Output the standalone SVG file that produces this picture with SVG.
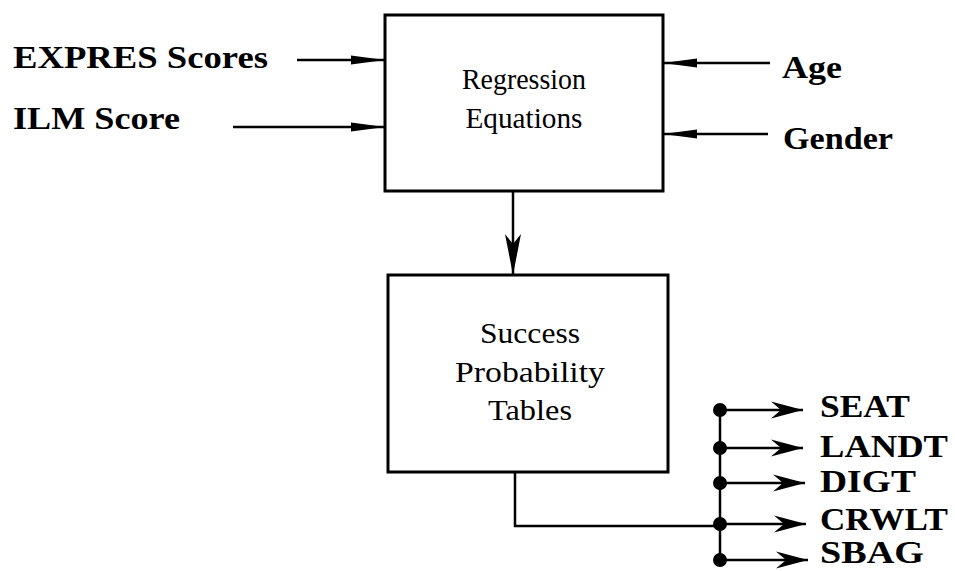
<svg xmlns="http://www.w3.org/2000/svg" width="955" height="571" viewBox="0 0 955 571">
<style>
.box{fill:#fff;stroke:#000;stroke-width:3}
.ln{fill:none;stroke:#000;stroke-width:2.5}
.lbl{font-family:"Liberation Serif","DejaVu Serif",serif;font-weight:bold;font-size:31px;fill:#000}
.txt{font-family:"Liberation Serif","DejaVu Serif",serif;font-size:29px;fill:#000;text-anchor:middle}
</style>
<defs>
<marker id="ah" markerUnits="userSpaceOnUse" markerWidth="36" markerHeight="14" refX="34" refY="7" orient="auto">
<path d="M0,2.5 L34,7 L0,11.5 Z" fill="#000"/>
</marker>
<marker id="ab" markerUnits="userSpaceOnUse" markerWidth="34" markerHeight="20" refX="32" refY="10" orient="auto">
<path d="M0,1.5 L32,10 L0,18.5 L10,10 Z" fill="#000"/>
</marker>
</defs>
<g id="connectors">
<line class="ln" x1="297" y1="60" x2="385" y2="60" marker-end="url(#ah)"/>
<line class="ln" x1="233" y1="127" x2="385" y2="127" marker-end="url(#ah)"/>
<line class="ln" x1="770" y1="63" x2="663" y2="63" marker-end="url(#ah)"/>
<line class="ln" x1="768" y1="134" x2="663" y2="134" marker-end="url(#ah)"/>
<path class="ln" d="M513,191 V275"/>
<path d="M505,234 L513,275 L521,234 L513,244 Z" fill="#000"/>
<path class="ln" d="M515,472 V526 H720"/>
<path class="ln" d="M720,410 V560"/>
<g fill="#000">
<circle cx="720" cy="410" r="7"/>
<circle cx="720" cy="448" r="7"/>
<circle cx="720" cy="483" r="7"/>
<circle cx="720" cy="524" r="7"/>
<circle cx="720" cy="560" r="7"/>
</g>
<line class="ln" x1="720" y1="410" x2="803" y2="410" marker-end="url(#ab)"/>
<line class="ln" x1="720" y1="448" x2="803" y2="448" marker-end="url(#ab)"/>
<line class="ln" x1="720" y1="483" x2="805" y2="483" marker-end="url(#ab)"/>
<line class="ln" x1="720" y1="524" x2="806" y2="524" marker-end="url(#ab)"/>
<line class="ln" x1="720" y1="560" x2="808" y2="560" marker-end="url(#ab)"/>
</g>
<g id="regression">
<rect class="box" x="385" y="15" width="278" height="176"/>
<text class="txt" x="524" y="89" textLength="124" lengthAdjust="spacingAndGlyphs">Regression</text>
<text class="txt" x="524" y="128" textLength="117" lengthAdjust="spacingAndGlyphs">Equations</text>
</g>
<g id="success">
<rect class="box" x="388" y="275" width="280" height="197"/>
<text class="txt" x="530" y="343" textLength="100" lengthAdjust="spacingAndGlyphs">Success</text>
<text class="txt" x="530" y="382" textLength="150" lengthAdjust="spacingAndGlyphs">Probability</text>
<text class="txt" x="530" y="420" textLength="84" lengthAdjust="spacingAndGlyphs">Tables</text>
</g>
<g id="inputs">
<text class="lbl" x="13" y="68" textLength="255" lengthAdjust="spacingAndGlyphs">EXPRES Scores</text>
<text class="lbl" x="13" y="129" textLength="167" lengthAdjust="spacingAndGlyphs">ILM Score</text>
<text class="lbl" x="782" y="78" textLength="60" lengthAdjust="spacingAndGlyphs">Age</text>
<text class="lbl" x="783" y="149" textLength="110" lengthAdjust="spacingAndGlyphs">Gender</text>
</g>
<g id="outputs">
<text class="lbl" x="820" y="417" textLength="90" lengthAdjust="spacingAndGlyphs">SEAT</text>
<text class="lbl" x="820" y="457" textLength="128" lengthAdjust="spacingAndGlyphs">LANDT</text>
<text class="lbl" x="820" y="492" textLength="96" lengthAdjust="spacingAndGlyphs">DIGT</text>
<text class="lbl" x="820" y="530" textLength="128" lengthAdjust="spacingAndGlyphs">CRWLT</text>
<text class="lbl" x="820" y="563" textLength="104" lengthAdjust="spacingAndGlyphs">SBAG</text>
</g>
</svg>
